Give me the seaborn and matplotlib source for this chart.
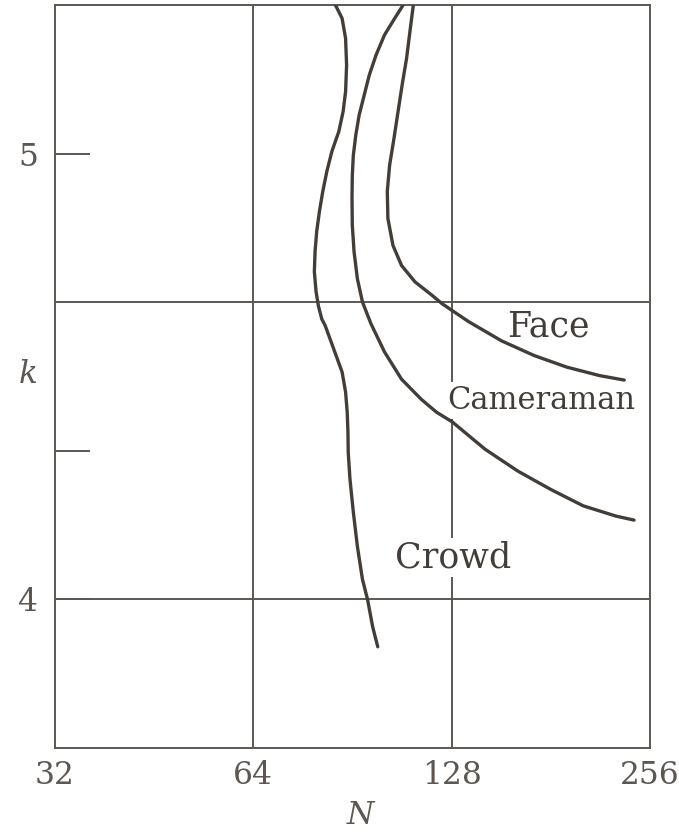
import numpy as np
import pandas as pd
import matplotlib
matplotlib.use("Agg")
import matplotlib.pyplot as plt
from matplotlib.ticker import FixedLocator, FixedFormatter, NullLocator
import seaborn as sns

# Block size N versus optimum k for three test images
crowd_n = [85.26, 87.28, 88.35, 88.66, 88.35, 87.59, 86.27, 84.23, 82.75, 81.58,
           80.63, 79.86, 79.41, 79.21, 79.69, 80.35, 81.29, 82.28, 84.74, 87.28,
           88.35, 88.85, 89.08, 89.17, 89.71, 90.77, 92.07, 93.72, 95.40, 97.11, 98.86]
crowd_k = [5.333, 5.303, 5.258, 5.198, 5.139, 5.094, 5.049, 5.005, 4.960, 4.915,
           4.870, 4.825, 4.780, 4.735, 4.690, 4.658, 4.629, 4.614, 4.562, 4.510,
           4.465, 4.420, 4.375, 4.330, 4.270, 4.196, 4.119, 4.045, 4.000, 3.939, 3.894]

cameraman_n = [108.03, 104.89, 101.23, 98.29, 95.98, 94.29, 92.63, 91.55, 90.77, 90.45,
               90.35, 90.45, 91.00, 92.07, 93.72, 96.56, 101.23, 107.42, 115.07, 121.38,
               128.31, 143.83, 161.25, 180.83, 202.70, 227.27, 242.10]
cameraman_k = [5.333, 5.303, 5.266, 5.221, 5.176, 5.131, 5.086, 5.041, 4.996, 4.951,
               4.899, 4.839, 4.780, 4.719, 4.667, 4.618, 4.555, 4.494, 4.449, 4.420,
               4.398, 4.337, 4.288, 4.247, 4.210, 4.187, 4.178]

face_n = [111.95, 110.64, 109.35, 107.66, 106.13, 104.63, 103.05, 102.21, 102.43, 104.26,
          107.42, 112.63, 119.53, 123.83, 135.82, 152.34, 170.77, 191.42, 214.67, 233.93]
face_k = [5.333, 5.274, 5.214, 5.154, 5.094, 5.034, 4.974, 4.915, 4.854, 4.794,
          4.749, 4.712, 4.682, 4.663, 4.623, 4.580, 4.547, 4.521, 4.502, 4.492]

x_ticks = [32, 64, 128, 256]
x_tick_labels = ["32", "64", "128", "256"]
y_ticks = [4, 4.333, 5]
y_tick_labels = ["4", "", "5"]
grid_n = [64, 128]
grid_k = [4, 4.667]

df = pd.concat([
    pd.DataFrame({"N": crowd_n, "k": crowd_k, "image": "Crowd"}),
    pd.DataFrame({"N": cameraman_n, "k": cameraman_k, "image": "Cameraman"}),
    pd.DataFrame({"N": face_n, "k": face_k, "image": "Face"}),
], ignore_index=True)

sns.set_theme(style="white")
plt.rcParams["font.family"] = ["DejaVu Serif", "Liberation Serif"]

ink = "#423d38"
frame = "#5c5752"

fig = plt.figure(figsize=(6.79, 8.34), dpi=100)
ax = fig.add_axes([55 / 679, 1 - 748 / 834, 595 / 679, 743 / 834])

sns.lineplot(data=df, x="N", y="k", hue="image", sort=False, estimator=None,
             palette={"Crowd": ink, "Cameraman": ink, "Face": ink},
             linewidth=2.4, legend=False, ax=ax, zorder=4,
             solid_capstyle="round", solid_joinstyle="round")

ax.set_xscale("log", base=2)
ax.set_xlim(32, 256)
ax.set_ylim(3.667, 5.333)

# grid lines
for xv in grid_n:
    ax.axvline(xv, color=frame, lw=1.4, zorder=1)
for yv in grid_k:
    ax.axhline(yv, color=frame, lw=1.4, zorder=1)

for sp in ax.spines.values():
    sp.set_color(frame)
    sp.set_linewidth(1.4)

ax.xaxis.set_major_locator(FixedLocator(x_ticks))
ax.xaxis.set_major_formatter(FixedFormatter(x_tick_labels))
ax.xaxis.set_minor_locator(NullLocator())
ax.yaxis.set_major_locator(FixedLocator(y_ticks))
ax.yaxis.set_major_formatter(FixedFormatter(y_tick_labels))
ax.yaxis.set_minor_locator(NullLocator())

ax.tick_params(axis="x", length=0, pad=9, labelsize=22.5, labelcolor=frame)
ax.tick_params(axis="y", direction="in", length=25, width=1.4, color=frame,
               pad=12, labelsize=22.5, labelcolor=frame, left=True)

ax.set_xlabel("N", fontsize=22.5, style="italic", color=frame)
ax.xaxis.set_label_coords(0.5126, -0.07)
ax.set_ylabel("k", fontsize=22.5, style="italic", color=frame, rotation=0,
              ha="center", va="center")
ax.yaxis.set_label_coords(-0.0454, 0.503)

box = dict(facecolor="white", edgecolor="none", pad=2.0)
ax.text(179.2, 4.589, "Face", fontsize=25, color=ink, ha="center", va="baseline",
        bbox=box, zorder=3)
ax.text(175.2, 4.427, "Cameraman", fontsize=22, color=ink, ha="center", va="baseline",
        bbox=box, zorder=3)
ax.text(128.66, 4.072, "Crowd", fontsize=25, color=ink, ha="center", va="baseline",
        bbox=box, zorder=3)

fig.savefig("out.png", dpi=100, facecolor="white")
